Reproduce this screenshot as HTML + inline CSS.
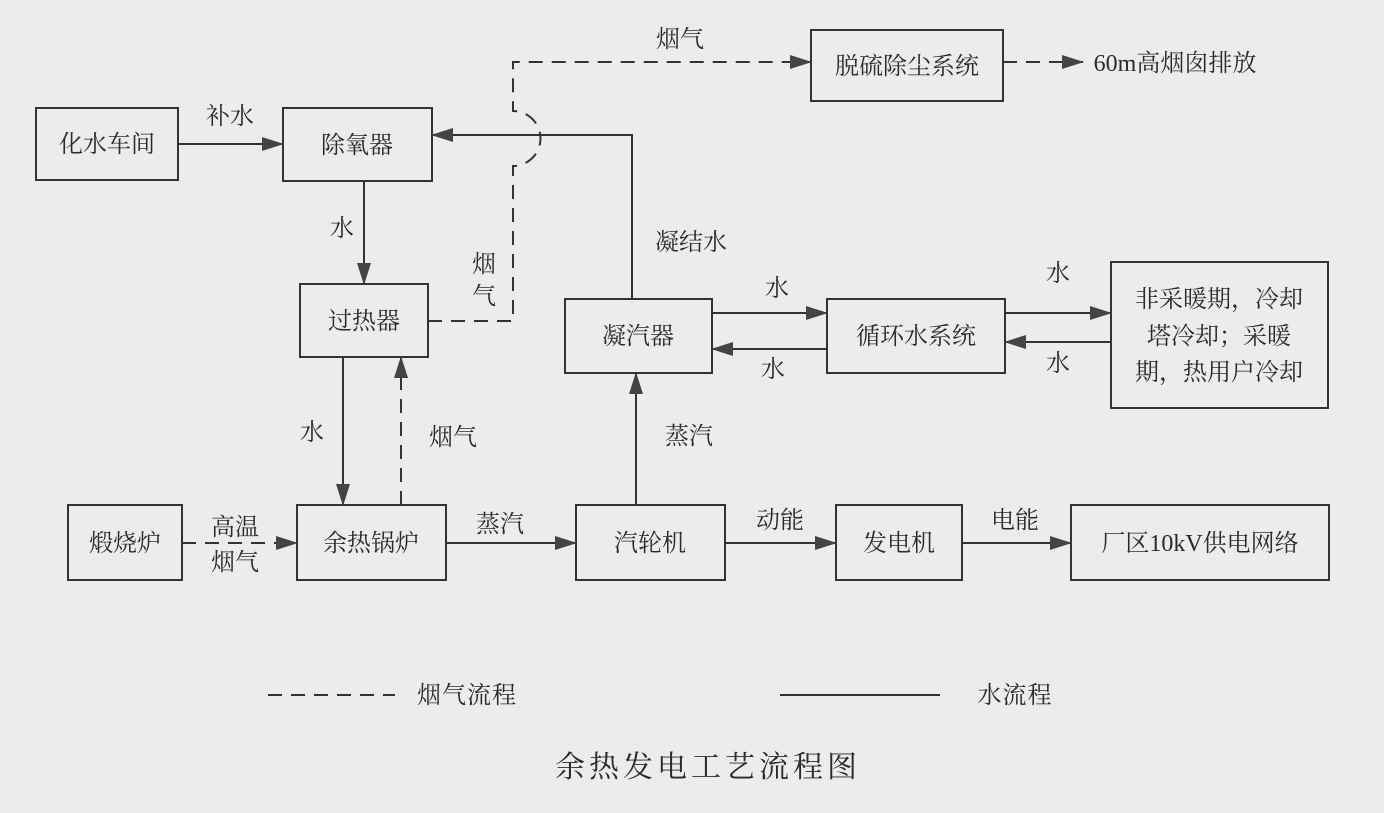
<!DOCTYPE html>
<html><head><meta charset="utf-8"><style>
html,body{margin:0;padding:0;background:#ececea;}
svg{display:block;}
text{font-family:"Liberation Serif","Noto Serif CJK SC","Noto Sans CJK SC",serif;fill:#2a2a2a;}
</style></head><body>
<svg width="1384" height="813" viewBox="0 0 1384 813" xmlns="http://www.w3.org/2000/svg">
<defs>
<marker id="a" markerWidth="22" markerHeight="14" refX="21" refY="7" orient="auto" markerUnits="userSpaceOnUse">
<path d="M0,0 L22,7 L0,14 Z" fill="#444"/>
</marker>
</defs>
<rect width="1384" height="813" fill="#ececea"/>
<g fill="none" stroke="#333" stroke-width="2">
<rect x="36" y="108" width="142" height="72"/>
<rect x="283" y="108" width="149" height="73"/>
<rect x="300" y="284" width="128" height="73"/>
<rect x="297" y="505" width="149" height="75"/>
<rect x="68" y="505" width="114" height="75"/>
<rect x="576" y="505" width="149" height="75"/>
<rect x="836" y="505" width="126" height="75"/>
<rect x="1071" y="505" width="258" height="75"/>
<rect x="565" y="299" width="147" height="74"/>
<rect x="827" y="299" width="178" height="74"/>
<rect x="1111" y="262" width="217" height="146"/>
<rect x="811" y="30" width="192" height="71"/>
</g>
<g fill="none" stroke="#333" stroke-width="2">
<line x1="178" y1="144" x2="283" y2="144" marker-end="url(#a)"/>
<line x1="364" y1="181" x2="364" y2="284" marker-end="url(#a)"/>
<line x1="343" y1="357" x2="343" y2="505" marker-end="url(#a)"/>
<polyline points="632,299 632,135 432,135" marker-end="url(#a)"/>
<line x1="712" y1="313" x2="827" y2="313" marker-end="url(#a)"/>
<line x1="827" y1="349" x2="712" y2="349" marker-end="url(#a)"/>
<line x1="1005" y1="313" x2="1111" y2="313" marker-end="url(#a)"/>
<line x1="1111" y1="342" x2="1005" y2="342" marker-end="url(#a)"/>
<line x1="636" y1="505" x2="636" y2="373" marker-end="url(#a)"/>
<line x1="446" y1="543" x2="576" y2="543" marker-end="url(#a)"/>
<line x1="725" y1="543" x2="836" y2="543" marker-end="url(#a)"/>
<line x1="962" y1="543" x2="1071" y2="543" marker-end="url(#a)"/>
<line x1="780" y1="695" x2="940" y2="695"/>
</g>
<g fill="none" stroke="#333" stroke-width="2" stroke-dasharray="14,9">
<line x1="401" y1="505" x2="401" y2="357" marker-end="url(#a)"/>
<path d="M428,321 L513,321 L513,166 A27,27 0 0 0 513,111 L513,62 L811,62" marker-end="url(#a)"/>
<line x1="1003" y1="62" x2="1083" y2="62" marker-end="url(#a)"/>
<line x1="182" y1="543" x2="297" y2="543" marker-end="url(#a)"/>
<line x1="268" y1="695" x2="395" y2="695"/>
</g>
<g font-size="24" text-anchor="middle">
<text x="107" y="152">化水车间</text>
<text x="357" y="153">除氧器</text>
<text x="364" y="329">过热器</text>
<text x="371" y="551">余热锅炉</text>
<text x="125" y="551">煅烧炉</text>
<text x="650" y="551">汽轮机</text>
<text x="899" y="551">发电机</text>
<text x="1200" y="551">厂区10kV供电网络</text>
<text x="638" y="344">凝汽器</text>
<text x="916" y="344">循环水系统</text>
<text x="907" y="74">脱硫除尘系统</text>
<text x="1219" y="307">非采暖期，冷却</text>
<text x="1219" y="344">塔冷却；采暖</text>
<text x="1219" y="380">期，热用户冷却</text>
<text x="1175" y="71">60m高烟囱排放</text>
<text x="680" y="47">烟气</text>
<text x="230" y="124">补水</text>
<text x="342" y="236">水</text>
<text x="484" y="272">烟</text>
<text x="484" y="304">气</text>
<text x="312" y="440">水</text>
<text x="453" y="445">烟气</text>
<text x="691" y="250">凝结水</text>
<text x="777" y="296">水</text>
<text x="773" y="377">水</text>
<text x="1058" y="281">水</text>
<text x="1058" y="371">水</text>
<text x="689" y="444">蒸汽</text>
<text x="500" y="532">蒸汽</text>
<text x="780" y="528">动能</text>
<text x="1015" y="528">电能</text>
<text x="235" y="535">高温</text>
<text x="235" y="570">烟气</text>
<text x="467" y="703" letter-spacing="1">烟气流程</text>
<text x="1015" y="703" letter-spacing="1">水流程</text>
<text x="708" y="777" font-size="30" letter-spacing="4">余热发电工艺流程图</text>
</g>
</svg>
</body></html>
